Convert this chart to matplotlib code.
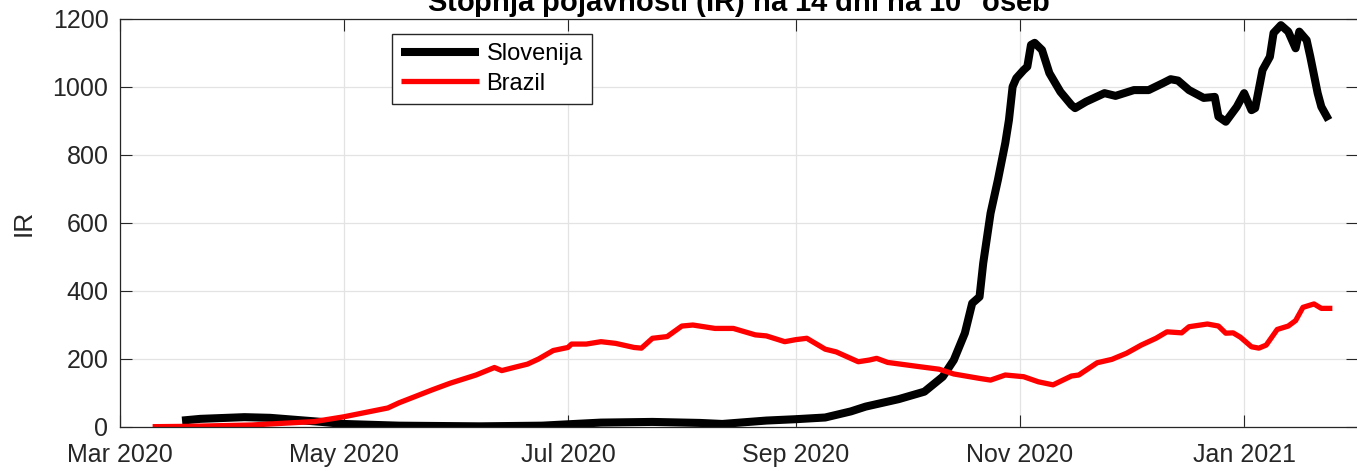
"""Stopnja pojavnosti (IR) na 14 dni - Slovenija vs Brazil."""
import matplotlib
matplotlib.use('Agg')
import matplotlib.pyplot as plt
import matplotlib.dates as mdates
import numpy as np

plt.rcParams['font.family'] = ['Liberation Sans', 'DejaVu Sans']
plt.rcParams['mathtext.fontset'] = 'custom'
plt.rcParams['mathtext.rm'] = 'Liberation Sans'
plt.rcParams['mathtext.bf'] = 'Liberation Sans:bold'

# values
slo_dates = ['2020-03-18', '2020-03-23', '2020-04-04', '2020-04-11', '2020-04-25',
             '2020-05-01', '2020-05-16', '2020-06-07', '2020-06-24', '2020-07-01',
             '2020-07-10', '2020-07-24', '2020-08-06', '2020-08-12', '2020-08-24',
             '2020-09-01', '2020-09-09', '2020-09-16', '2020-09-20', '2020-09-29',
             '2020-10-06', '2020-10-11', '2020-10-14', '2020-10-17', '2020-10-19',
             '2020-10-21', '2020-10-22', '2020-10-24', '2020-10-26', '2020-10-28',
             '2020-10-29', '2020-10-30', '2020-10-31', '2020-11-02', '2020-11-03',
             '2020-11-04', '2020-11-05', '2020-11-07', '2020-11-09', '2020-11-12',
             '2020-11-15', '2020-11-16', '2020-11-19', '2020-11-24', '2020-11-27',
             '2020-12-02', '2020-12-06', '2020-12-10', '2020-12-12', '2020-12-14',
             '2020-12-17', '2020-12-21', '2020-12-24', '2020-12-25', '2020-12-27',
             '2020-12-30', '2021-01-01', '2021-01-03', '2021-01-04', '2021-01-06',
             '2021-01-08', '2021-01-09', '2021-01-11', '2021-01-13', '2021-01-15',
             '2021-01-16', '2021-01-18', '2021-01-19', '2021-01-21', '2021-01-22',
             '2021-01-24']
slo_values = [18, 23, 28, 26, 14,
              8, 3, 1, 3, 7,
              12, 14, 11, 8, 18,
              22, 27, 45, 59, 81,
              103, 147, 196, 275, 363,
              382, 481, 628, 726, 834,
              902, 1000, 1025, 1049, 1059,
              1123, 1129, 1108, 1040, 985,
              946, 937, 956, 981, 973,
              990, 990, 1011, 1022, 1018,
              990, 967, 970, 912, 897,
              941, 981, 931, 937, 1049,
              1088, 1158, 1181, 1162, 1113,
              1162, 1137, 1088, 981, 941,
              902]

bra_dates = ['2020-03-10', '2020-03-20', '2020-04-06', '2020-04-23', '2020-05-01',
             '2020-05-13', '2020-05-16', '2020-05-25', '2020-05-30', '2020-06-06',
             '2020-06-11', '2020-06-13', '2020-06-17', '2020-06-20', '2020-06-23',
             '2020-06-27', '2020-07-01', '2020-07-02', '2020-07-06', '2020-07-10',
             '2020-07-14', '2020-07-19', '2020-07-21', '2020-07-24', '2020-07-28',
             '2020-08-01', '2020-08-04', '2020-08-10', '2020-08-15', '2020-08-21',
             '2020-08-24', '2020-08-29', '2020-09-01', '2020-09-04', '2020-09-09',
             '2020-09-12', '2020-09-18', '2020-09-21', '2020-09-23', '2020-09-26',
             '2020-10-05', '2020-10-10', '2020-10-14', '2020-10-21', '2020-10-24',
             '2020-10-28', '2020-11-02', '2020-11-06', '2020-11-10', '2020-11-15',
             '2020-11-17', '2020-11-22', '2020-11-26', '2020-11-30', '2020-12-04',
             '2020-12-08', '2020-12-11', '2020-12-15', '2020-12-17', '2020-12-22',
             '2020-12-25', '2020-12-27', '2020-12-29', '2020-12-31', '2021-01-03',
             '2021-01-05', '2021-01-07', '2021-01-10', '2021-01-13', '2021-01-15',
             '2021-01-17', '2021-01-20', '2021-01-22', '2021-01-25']
bra_values = [0, 1, 5, 15, 29,
              55, 70, 108, 128, 152,
              174, 165, 176, 184, 199,
              224, 233, 243, 243, 250,
              245, 233, 231, 260, 265,
              296, 299, 289, 289, 270,
              267, 250, 256, 260, 228,
              220, 191, 196, 201, 189,
              176, 169, 155, 142, 137,
              152, 147, 132, 123, 149,
              152, 188, 198, 216, 240,
              260, 279, 276, 294, 302,
              296, 275, 276, 263, 235,
              231, 240, 286, 296, 312,
              351, 361, 348, 348]

title = r'Stopnja pojavnosti (IR) na 14 dni na 10$^{\mathbf{5}}$ oseb'
dark = '#262626'

fig = plt.figure(figsize=(13.57, 4.71), dpi=100)
ax = fig.add_axes([0.0881, 0.0941, 0.9127, 0.8662])

ax.plot(np.array(slo_dates, dtype='datetime64[D]'), slo_values,
        color='black', lw=5.8, label='Slovenija', solid_capstyle='butt')
ax.plot(np.array(bra_dates, dtype='datetime64[D]'), bra_values,
        color='#ff0000', lw=3.8, label='Brazil', solid_capstyle='butt')

ax.set_xlim(np.datetime64('2020-03-01'), np.datetime64('2021-02-01'))
ax.set_ylim(0, 1200)
ax.set_yticks(range(0, 1201, 200))
ax.xaxis.set_major_locator(mdates.MonthLocator(bymonth=[1, 3, 5, 7, 9, 11]))
ax.xaxis.set_major_formatter(mdates.DateFormatter('%b %Y'))

ax.grid(True, color='#e3e3e3', lw=0.9)
ax.set_axisbelow(True)
for s in ax.spines.values():
    s.set_color(dark)
    s.set_linewidth(0.9)
ax.tick_params(direction='in', length=8.5, width=0.8, color=dark,
               labelcolor=dark, labelsize=18, top=True, right=True)
ax.tick_params(axis='x', pad=12)
ax.tick_params(axis='y', pad=8)

ax.set_ylabel('IR', fontsize=19, color=dark)
ax.yaxis.set_label_coords(-0.068, 0.5)
# the title sits partly above the top edge, as in the source picture
ax.set_title(title, fontsize=21, fontweight='bold', color='black', pad=4.8)

leg = ax.legend(loc='upper left', bbox_to_anchor=(392 / 1357, 1 - 34 / 471),
                bbox_transform=fig.transFigure, borderaxespad=0,
                fontsize=17, fancybox=False, framealpha=1, edgecolor=dark,
                handlelength=3.3, handletextpad=0.3, labelspacing=0.3,
                borderpad=0.4)
leg.get_frame().set_linewidth(1.0)

fig.savefig('out.png', dpi=100)
